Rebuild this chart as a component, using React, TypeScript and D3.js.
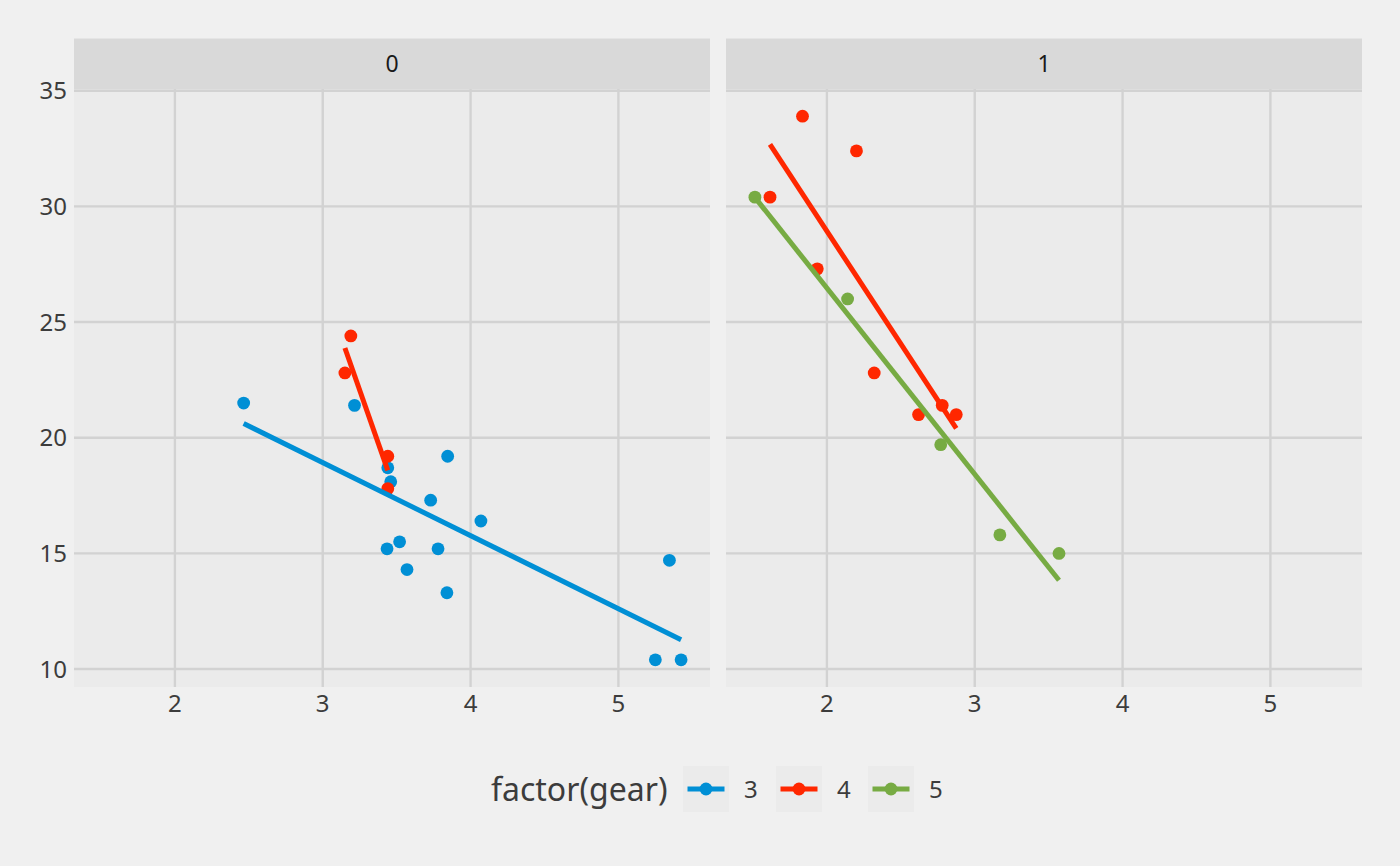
import * as d3 from "d3";
import React, { useEffect, useRef } from "react";

// mtcars: weight (1000 lbs), mpg, transmission (am) and gears
const wt = [
  2.62, 2.875, 2.32, 3.215, 3.44, 3.46, 3.57, 3.19, 3.15, 3.44, 3.44, 4.07,
  3.73, 3.78, 5.25, 5.424, 5.345, 2.2, 1.615, 1.835, 2.465, 3.52, 3.435, 3.84,
  3.845, 1.935, 2.14, 1.513, 3.17, 2.77, 3.57, 2.78,
];
const mpg = [
  21.0, 21.0, 22.8, 21.4, 18.7, 18.1, 14.3, 24.4, 22.8, 19.2, 17.8, 16.4, 17.3,
  15.2, 10.4, 10.4, 14.7, 32.4, 30.4, 33.9, 21.5, 15.5, 15.2, 13.3, 19.2, 27.3,
  26.0, 30.4, 15.8, 19.7, 15.0, 21.4,
];
const am = [
  1, 1, 1, 0, 0, 0, 0, 0, 0, 0, 0, 0, 0, 0, 0, 0, 0, 1, 1, 1, 0, 0, 0, 0, 0, 1,
  1, 1, 1, 1, 1, 1,
];
const gear = [
  4, 4, 4, 3, 3, 3, 3, 4, 4, 4, 4, 3, 3, 3, 3, 3, 3, 4, 4, 4, 3, 3, 3, 3, 3, 4,
  5, 5, 5, 5, 5, 4,
];

const facets = [0, 1];
const gears = [3, 4, 5];
const gearColors = ["#008FD5", "#FF2700", "#77AB43"];
const xTicks = [2, 3, 4, 5];
const yTicks = [10, 15, 20, 25, 30, 35];

const W = 1400;
const H = 866;
const FONT = "'Noto Sans', 'Open Sans', sans-serif";
const TEXT = "#3C3C3C";

const App: React.FC = () => {
  const svgRef = useRef<SVGSVGElement | null>(null);

  useEffect(() => {
    if (!svgRef.current) return;
    const svg = d3.select(svgRef.current);
    svg.selectAll("*").remove();

    const rows = wt.map((w, i) => ({ wt: w, mpg: mpg[i], am: am[i], gear: gear[i] }));
    const color = d3.scaleOrdinal<number, string>().domain(gears).range(gearColors);

    // layout
    const stripTop = 38.5;
    const panelTop = 89;
    const panelBottom = 687;
    const panelX = [
      [74, 710],
      [726, 1362],
    ];

    const expand = (ext: [number, number]) => {
      const d = (ext[1] - ext[0]) * 0.05;
      return [ext[0] - d, ext[1] + d];
    };
    const xDom = expand(d3.extent(wt) as [number, number]);
    const yDom = expand(d3.extent(mpg) as [number, number]);
    const y = d3.scaleLinear().domain(yDom).range([panelBottom, panelTop]);

    svg.append("rect").attr("width", W).attr("height", H).attr("fill", "#F0F0F0");

    // simple least squares fit
    const lm = (pts: { wt: number; mpg: number }[]) => {
      const mx = d3.mean(pts, (p) => p.wt)!;
      const my = d3.mean(pts, (p) => p.mpg)!;
      const sxy = d3.sum(pts, (p) => (p.wt - mx) * (p.mpg - my));
      const sxx = d3.sum(pts, (p) => (p.wt - mx) ** 2);
      const b = sxy / sxx;
      const a = my - b * mx;
      const [x0, x1] = d3.extent(pts, (p) => p.wt) as [number, number];
      return [
        [x0, a + b * x0],
        [x1, a + b * x1],
      ];
    };

    facets.forEach((f, fi) => {
      const [left, right] = panelX[fi];
      const x = d3.scaleLinear().domain(xDom).range([left, right]);
      const g = svg.append("g");

      // strip
      g.append("rect")
        .attr("x", left)
        .attr("y", stripTop)
        .attr("width", right - left)
        .attr("height", panelTop - stripTop)
        .attr("fill", "#D9D9D9");
      g.append("text")
        .attr("x", (left + right) / 2)
        .attr("y", (stripTop + panelTop) / 2)
        .attr("dy", "0.36em")
        .attr("text-anchor", "middle")
        .attr("font-family", FONT)
        .attr("font-size", 23)
        .attr("fill", "#1A1A1A")
        .text(String(f));

      // panel
      g.append("rect")
        .attr("x", left)
        .attr("y", panelTop)
        .attr("width", right - left)
        .attr("height", panelBottom - panelTop)
        .attr("fill", "#EBEBEB");

      // grid
      g.selectAll(".hgrid")
        .data(yTicks)
        .enter()
        .append("line")
        .attr("x1", left)
        .attr("x2", right)
        .attr("y1", (d) => y(d))
        .attr("y2", (d) => y(d))
        .attr("stroke", "#D2D2D2")
        .attr("stroke-width", 2.4);
      g.selectAll(".vgrid")
        .data(xTicks)
        .enter()
        .append("line")
        .attr("x1", (d) => x(d))
        .attr("x2", (d) => x(d))
        .attr("y1", panelTop)
        .attr("y2", panelBottom)
        .attr("stroke", "#D2D2D2")
        .attr("stroke-width", 2.4);

      // x tick labels
      g.selectAll(".xlab")
        .data(xTicks)
        .enter()
        .append("text")
        .attr("x", (d) => x(d))
        .attr("y", 712)
        .attr("text-anchor", "middle")
        .attr("font-family", FONT)
        .attr("font-size", 24)
        .attr("fill", TEXT)
        .text((d) => String(d));

      // y tick labels (left panel only)
      if (fi === 0) {
        g.selectAll(".ylab")
          .data(yTicks)
          .enter()
          .append("text")
          .attr("x", 67)
          .attr("y", (d) => y(d))
          .attr("dy", "0.36em")
          .attr("text-anchor", "end")
          .attr("font-family", FONT)
          .attr("font-size", 24)
          .attr("fill", TEXT)
          .text((d) => String(d));
      }

      const sub = rows.filter((r) => r.am === f);

      // points
      g.selectAll(".pt")
        .data(sub)
        .enter()
        .append("circle")
        .attr("cx", (d) => x(d.wt))
        .attr("cy", (d) => y(d.mpg))
        .attr("r", 6.4)
        .attr("fill", (d) => color(d.gear));

      // regression lines
      gears.forEach((gr) => {
        const pts = sub.filter((r) => r.gear === gr);
        if (pts.length < 2) return;
        const seg = lm(pts);
        g.append("path")
          .attr(
            "d",
            d3
              .line<number[]>()
              .x((d) => x(d[0]))
              .y((d) => y(d[1]))(seg)
          )
          .attr("stroke", color(gr))
          .attr("stroke-width", 5)
          .attr("fill", "none");
      });
    });

    // legend
    const lg = svg.append("g");
    const legendY = 789;
    lg.append("text")
      .attr("x", 491)
      .attr("y", legendY)
      .attr("dy", "0.36em")
      .attr("font-family", FONT)
      .attr("font-size", 32)
      .attr("fill", TEXT)
      .text("factor(gear)");
    const keyX = [683, 776, 868];
    gears.forEach((gr, i) => {
      const kx = keyX[i];
      lg.append("rect")
        .attr("x", kx)
        .attr("y", legendY - 23)
        .attr("width", 46)
        .attr("height", 46)
        .attr("fill", "#EBEBEB");
      lg.append("line")
        .attr("x1", kx + 4.5)
        .attr("x2", kx + 41.5)
        .attr("y1", legendY)
        .attr("y2", legendY)
        .attr("stroke", color(gr))
        .attr("stroke-width", 5);
      lg.append("circle")
        .attr("cx", kx + 23)
        .attr("cy", legendY)
        .attr("r", 6.4)
        .attr("fill", color(gr));
      lg.append("text")
        .attr("x", kx + 61)
        .attr("y", legendY)
        .attr("dy", "0.36em")
        .attr("font-family", FONT)
        .attr("font-size", 24)
        .attr("fill", TEXT)
        .text(String(gr));
    });
  }, []);

  return (
    <div style={{ position: "absolute", left: 0, top: 0 }}>
      <svg ref={svgRef} width={W} height={H} style={{ display: "block" }}></svg>
    </div>
  );
};

export default App;
